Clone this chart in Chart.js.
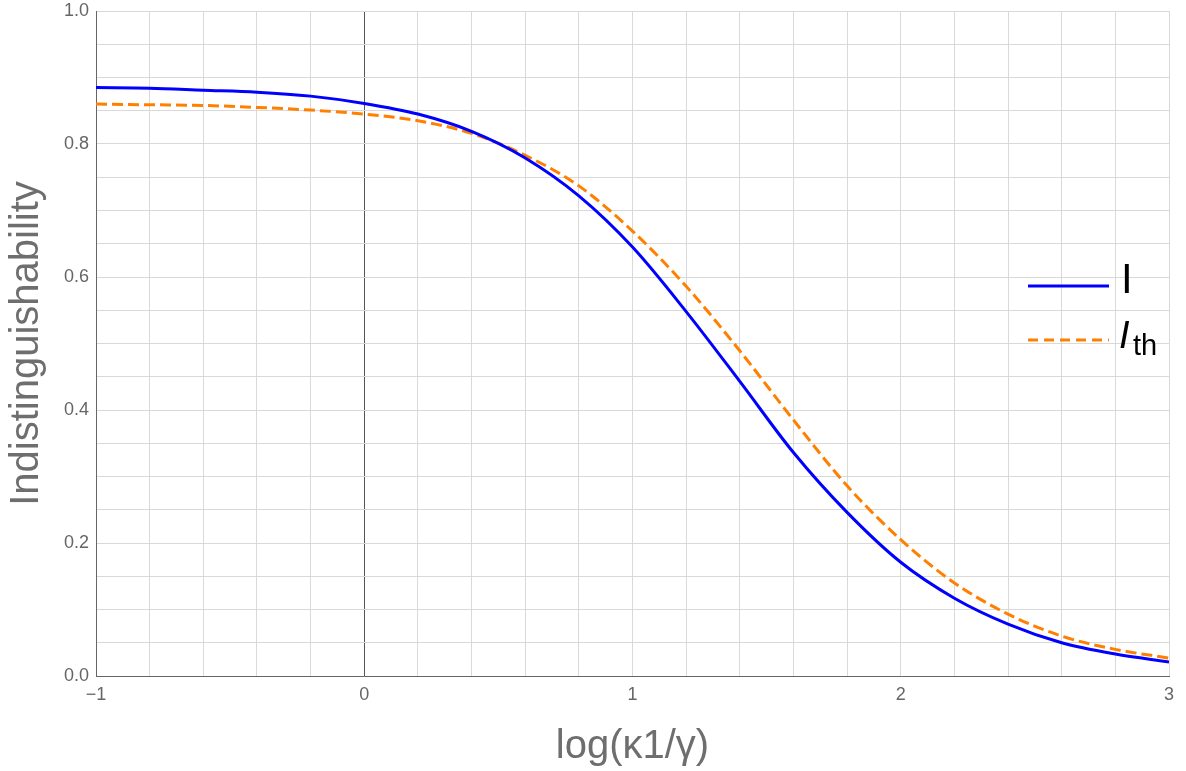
<!DOCTYPE html>
<html>
<head>
<meta charset="utf-8">
<script src="https://cdn.jsdelivr.net/npm/chart.js@4"></script>
<style>
  html, body { margin: 0; padding: 0; background: #fff; }
  #wrap { width: 1186px; height: 771px; }
</style>
</head>
<body>
<div id="wrap"><canvas id="chart" width="1186" height="771"></canvas></div>
<script>
// log(κ1/γ) sample points
const logKappa = [-1, -0.8, -0.6, -0.4, -0.2, 0, 0.2, 0.4, 0.6, 0.8, 1.0, 1.2, 1.4, 1.6, 1.8, 2.0, 2.2, 2.4, 2.6, 2.8, 3.0];
// measured indistinguishability I
const indist = [0.885, 0.884, 0.881, 0.878, 0.872, 0.861, 0.845, 0.819, 0.779, 0.722, 0.645, 0.548, 0.443, 0.336, 0.246, 0.171, 0.117, 0.078, 0.050, 0.033, 0.021];
// theoretical I_th
const indistTh = [0.860, 0.859, 0.858, 0.855, 0.851, 0.845, 0.835, 0.816, 0.783, 0.737, 0.669, 0.586, 0.489, 0.385, 0.286, 0.205, 0.140, 0.093, 0.060, 0.040, 0.027];

const FONT = "'Liberation Sans', Arial, sans-serif";
const BLUE = '#0000ff';
const ORANGE = '#ff8000';

function isMultiple(v, step) {
    return Math.abs(v / step - Math.round(v / step)) < 1e-6;
}

// legend with subscript, drawn by hand
const legendPlugin = {
    id: 'sideLegend',
    afterDraw(chart) {
        const ctx = chart.ctx;
        ctx.save();
        ctx.lineWidth = 3;

        ctx.strokeStyle = BLUE;
        ctx.setLineDash([]);
        ctx.beginPath();
        ctx.moveTo(1028, 286);
        ctx.lineTo(1109, 286);
        ctx.stroke();

        ctx.strokeStyle = ORANGE;
        ctx.setLineDash([10, 6]);
        ctx.beginPath();
        ctx.moveTo(1028, 340);
        ctx.lineTo(1109, 340);
        ctx.stroke();

        ctx.fillStyle = '#000';
        ctx.textBaseline = 'alphabetic';
        ctx.textAlign = 'left';
        ctx.font = '42px ' + FONT;
        ctx.fillText('I', 1121, 293);

        ctx.font = 'italic 38px ' + FONT;
        ctx.fillText('I', 1119, 348);
        ctx.font = '29px ' + FONT;
        ctx.fillText('th', 1133, 355);
        ctx.restore();
    }
};

new Chart(document.getElementById('chart'), {
    type: 'line',
    data: {
        datasets: [
            {
                label: 'I',
                data: logKappa.map((x, i) => ({ x: x, y: indist[i] })),
                borderColor: BLUE,
                borderWidth: 3,
                pointRadius: 0,
                cubicInterpolationMode: 'monotone',
                fill: false
            },
            {
                label: 'I_th',
                data: logKappa.map((x, i) => ({ x: x, y: indistTh[i] })),
                borderColor: ORANGE,
                borderWidth: 3,
                borderDash: [11, 5],
                pointRadius: 0,
                cubicInterpolationMode: 'monotone',
                fill: false
            }
        ]
    },
    options: {
        responsive: false,
        animation: false,
        layout: { padding: { top: 11, right: 17, left: 0, bottom: 0 } },
        plugins: {
            legend: { display: false },
            tooltip: { enabled: false }
        },
        scales: {
            x: {
                type: 'linear',
                min: -1,
                max: 3,
                afterFit: (scale) => { scale.height = 95; },
                border: { display: true, color: '#666', width: 1 },
                grid: {
                    drawTicks: false,
                    lineWidth: 1,
                    color: (c) => (c.tick && Math.abs(c.tick.value) < 1e-9) ? '#555' : '#d9d9d9'
                },
                ticks: {
                    stepSize: 0.2,
                    autoSkip: false,
                    maxRotation: 0,
                    minRotation: 0,
                    padding: 8,
                    color: '#666',
                    font: { family: FONT, size: 18 },
                    callback: (v) => {
                        if (!isMultiple(v, 1)) return '';
                        const n = Math.round(v);
                        return n < 0 ? '\u2212' + Math.abs(n) : String(n);
                    }
                },
                title: {
                    display: true,
                    text: 'log(\u03ba1/\u03b3)',
                    color: '#6e6e6e',
                    font: { family: FONT, size: 40 },
                    padding: { top: 3, bottom: 0 }
                }
            },
            y: {
                type: 'linear',
                min: 0,
                max: 1,
                afterFit: (scale) => {
                    scale.width = 96;
                    scale.paddingTop = 0;
                    scale.paddingBottom = 0;
                },
                border: { display: true, color: '#666', width: 1 },
                grid: {
                    drawTicks: false,
                    lineWidth: 1,
                    color: '#d9d9d9'
                },
                ticks: {
                    stepSize: 0.05,
                    autoSkip: false,
                    padding: 7,
                    color: '#666',
                    font: { family: FONT, size: 18 },
                    callback: (v) => isMultiple(v, 0.2) ? v.toFixed(1) : ''
                },
                title: {
                    display: true,
                    text: 'Indistinguishability',
                    color: '#6e6e6e',
                    font: { family: FONT, size: 40 },
                    padding: { top: 3, bottom: 0 }
                }
            }
        }
    },
    plugins: [legendPlugin]
});
</script>
</body>
</html>
